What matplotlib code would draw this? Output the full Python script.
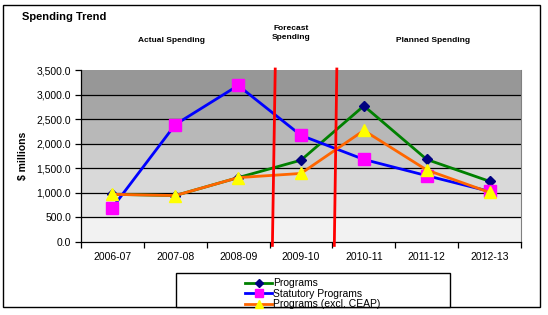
import numpy as np
import matplotlib.pyplot as plt
from matplotlib.patches import Rectangle
from matplotlib.lines import Line2D
from matplotlib.ticker import FuncFormatter

years = ['2006-07', '2007-08', '2008-09', '2009-10', '2010-11', '2011-12', '2012-13']
programs = [970, 945, 1310, 1665, 2770, 1680, 1235]
statutory = [700, 2390, 3185, 2170, 1680, 1350, 1030]
excl_ceap = [970, 945, 1310, 1395, 2270, 1465, 1010]
band_greys = ['#f2f2f2', '#e6e6e6', '#d9d9d9', '#cccccc', '#b8b8b8', '#a6a6a6', '#979797']

plt.rcParams['font.family'] = ['Liberation Sans', 'DejaVu Sans']

fig = plt.figure(figsize=(5.48, 3.15), dpi=100)
W, H = 548, 315
ax = fig.add_axes([81 / W, 1 - 242 / H, 440 / W, 172 / H])

x = np.arange(len(years))

# banded grey background
for i, c in enumerate(band_greys):
    ax.axhspan(i * 500, (i + 1) * 500, color=c, zorder=0, lw=0)
for yv in range(500, 3500, 500):
    ax.axhline(yv, color='black', lw=0.9, zorder=1)

ax.plot(x, programs, color='#008000', lw=2, marker='D', ms=5.5,
        mfc='#000080', mec='#000080', zorder=3, label='Programs')
ax.plot(x, statutory, color='#0000ff', lw=2, marker='s', ms=8,
        mfc='#ff00ff', mec='#ff00ff', zorder=4, label='Statutory Programs')
ax.plot(x, excl_ceap, color='#ff6600', lw=2, marker='^', ms=8,
        mfc='#ffff00', mec='#ffff00', zorder=5, label='Programs (excl. CEAP)')

ax.set_xlim(-0.5, 6.5)
ax.set_ylim(0, 3500)
ax.set_yticks(np.arange(0, 3501, 500))
ax.yaxis.set_major_formatter(FuncFormatter(lambda v, p: f'{v:,.1f}'))
ax.set_xticks(x)
ax.set_xticklabels(years)
ax.set_xticks(np.arange(-0.5, 7, 1), minor=True)
ax.tick_params(axis='x', which='major', length=0, labelsize=7.5, pad=7)
ax.tick_params(axis='x', which='minor', length=4, width=0.9, direction='out')
ax.tick_params(axis='y', length=4, width=0.9, labelsize=7.5, pad=3)
ax.set_ylabel('$ millions', fontsize=7.5, fontweight='bold', labelpad=6)

ax.spines['top'].set_visible(False)
ax.spines['right'].set_color('#808080')
ax.spines['left'].set_linewidth(0.9)
ax.spines['bottom'].set_linewidth(0.9)

# red separators (slightly slanted, extend a little below axis)
for xt, xb in [(2.59, 2.545), (3.57, 3.53)]:
    ax.add_line(Line2D([xb, xt], [-70, 3520], color='#ff0000', lw=2,
                       zorder=6, clip_on=False))

# outer frame
fig.add_artist(Rectangle((3 / W, 1 - 307 / H), 537 / W, 302 / H,
                         transform=fig.transFigure, fill=False,
                         edgecolor='black', lw=1))

fig.text(22 / W, 1 - 17 / H, 'Spending Trend', fontsize=8, fontweight='bold',
         va='center', ha='left')
fig.text(172 / W, 1 - 41 / H, 'Actual Spending', fontsize=6, fontweight='bold',
         ha='center', va='center')
fig.text(291 / W, 1 - 33 / H, 'Forecast\nSpending', fontsize=6,
         fontweight='bold', ha='center', va='center', linespacing=1.4)
fig.text(433 / W, 1 - 41 / H, 'Planned Spending', fontsize=6,
         fontweight='bold', ha='center', va='center')

# legend box
fig.add_artist(Rectangle((176 / W, 1 - 307 / H), 274 / W, 34 / H,
                         transform=fig.transFigure, fill=True,
                         facecolor='white', edgecolor='black', lw=1))
handles, labels = ax.get_legend_handles_labels()
leg = fig.legend(handles, labels, loc='upper left',
                 bbox_to_anchor=(240 / W, 1 - 273 / H), frameon=False,
                 fontsize=7.5, handlelength=2.6, handletextpad=0.1,
                 labelspacing=0.05, borderpad=0, markerscale=0.75)

fig.savefig('out.png', dpi=100)
